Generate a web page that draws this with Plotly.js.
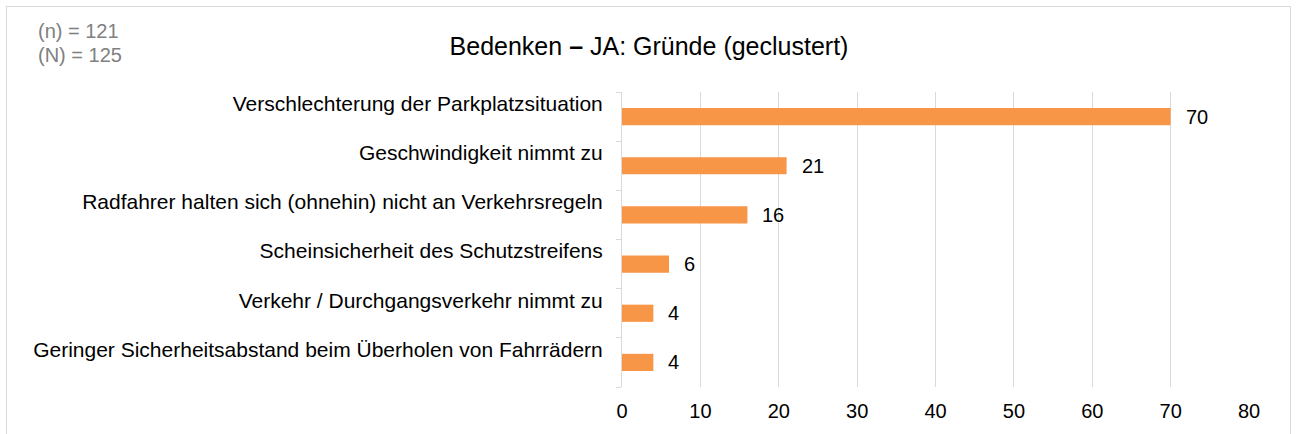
<!DOCTYPE html>
<html><head><meta charset="utf-8">
<script src="https://cdn.plot.ly/plotly-3.0.1.min.js"></script>
<style>
html,body{margin:0;padding:0;background:#fff;}
#wrap{position:relative;width:1298px;height:434px;overflow:hidden;}
#chart{position:absolute;left:0;top:0;width:1298px;height:434px;}
#frame{position:absolute;left:6px;top:6px;width:1283px;height:460px;border:1px solid #d9d9d9;pointer-events:none;}
</style></head>
<body>
<div id="wrap"><div id="chart"></div><div id="frame"></div></div>
<script>
const categories = [
  "Verschlechterung der Parkplatzsituation",
  "Geschwindigkeit nimmt zu",
  "Radfahrer halten sich (ohnehin) nicht an Verkehrsregeln",
  "Scheinsicherheit des Schutzstreifens",
  "Verkehr / Durchgangsverkehr nimmt zu",
  "Geringer Sicherheitsabstand beim Überholen von Fahrrädern"
];
const values = [70, 21, 16, 6, 4, 4];
const xTicks = [0, 10, 20, 30, 40, 50, 60, 70, 80];
const titleText = "Bedenken <b>–</b> JA: Gründe (geclustert)";
const sampleNotes = ["(n) = 121", "(N) = 125"];

const FONT = "Liberation Sans, Arial, sans-serif";
const L = 622, R = 49, T = 92, B = 47;
const PW = 1298 - L - R, PH = 434 - T - B;

const trace = {
  type: "bar",
  orientation: "h",
  y: categories,
  x: values,
  marker: {color: "#F79646"},
  hoverinfo: "none"
};

const valueLabels = values.map((v, i) => ({
  text: String(v), x: v, y: categories[i], xref: "x", yref: "y",
  xanchor: "left", yanchor: "middle", xshift: 13, showarrow: false,
  font: {family: FONT, size: 20, color: "#000"}
}));

const notes = sampleNotes.map((t, i) => ({
  text: t, xref: "paper", yref: "paper", x: (36 - L) / PW, xanchor: "left",
  y: 1 + (T - 31 - i * 24) / PH, yanchor: "middle", showarrow: false,
  font: {family: FONT, size: 20, color: "#808080"}
}));

const layout = {
  width: 1298, height: 434,
  margin: {l: L, r: R, t: T, b: B},
  paper_bgcolor: "#fff", plot_bgcolor: "#fff",
  showlegend: false,
  bargap: 0.65,
  font: {family: FONT, size: 20, color: "#000"},
  title: {text: titleText, x: 0.5, xref: "container", xanchor: "center",
          y: 1 - 46 / 434, yref: "container", yanchor: "middle",
          font: {family: FONT, size: 25, color: "#000"}},
  xaxis: {range: [0, 80], tickvals: xTicks, ticktext: xTicks.map(String), showgrid: true, gridcolor: "#d9d9d9", gridwidth: 1,
          zeroline: false, showline: false, ticks: "", ticklabelstandoff: 10, tickfont: {size: 20}, fixedrange: true},
  yaxis: {type: "category", categoryorder: "array", categoryarray: categories.slice().reverse(),
          range: [-0.5, 5.5],
          showgrid: false, zeroline: false, showline: true, linecolor: "#d9d9d9", linewidth: 1,
          ticks: "outside", tickson: "boundaries", ticklen: 5, tickcolor: "#d9d9d9",
          ticklabelstandoff: 14, ticklabelshift: -13, tickfont: {size: 21}, fixedrange: true},
  annotations: valueLabels.concat(notes)
};

Plotly.newPlot("chart", [trace], layout, {displayModeBar: false, staticPlot: true});
</script>
</body></html>
